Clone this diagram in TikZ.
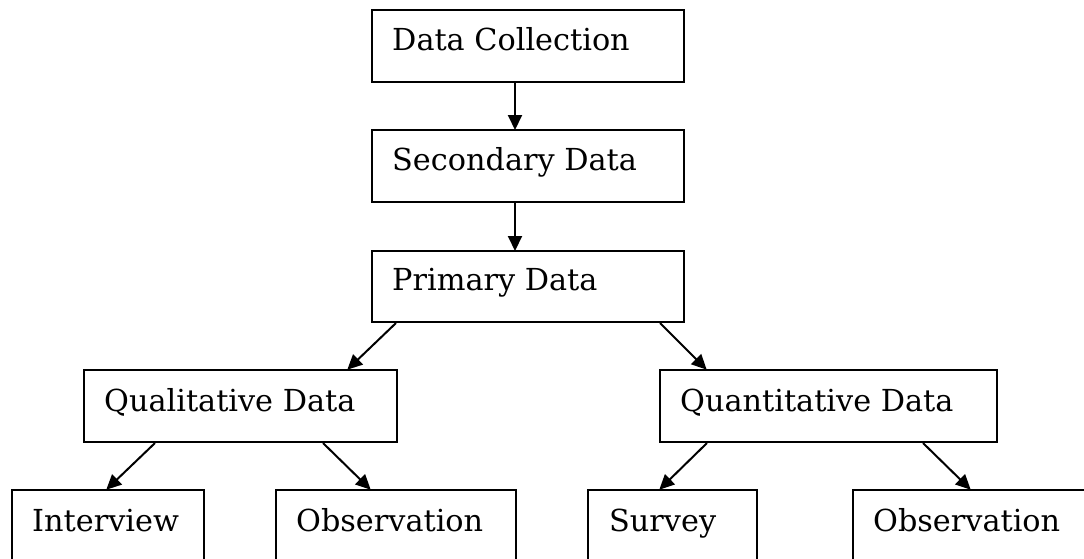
\documentclass[tikz,border=0pt]{standalone}
\usepackage{fontspec}
\setmainfont{DejaVu Serif}
\usetikzlibrary{arrows.meta,calc}
\begin{document}
\begin{tikzpicture}[x=1pt,y=1pt,
  box/.style={draw=black, line width=2pt, rectangle, inner sep=0pt, anchor=north west},
  txt/.style={inner sep=0pt, anchor=base west, font=\fontsize{30.3}{36}\selectfont},
  arr/.style={line width=2pt, -{Triangle[length=15pt,width=14pt]}, shorten >=-1pt}
]
\useasboundingbox (0,0) rectangle (1084,-558);
\clip (0,0) rectangle (1084,-558);
% boxes
\node[box, minimum width=312pt, minimum height=72pt] (dc) at (371,-9) {};
\node[box, minimum width=312pt, minimum height=72pt] (sec) at (371,-129) {};
\node[box, minimum width=312pt, minimum height=71pt] (prim) at (371,-250) {};
\node[box, minimum width=313pt, minimum height=72pt] (qual) at (83,-369) {};
\node[box, minimum width=337pt, minimum height=72pt] (quant) at (659,-369) {};
\node[box, minimum width=192pt, minimum height=80pt] (int) at (11,-489) {};
\node[box, minimum width=240pt, minimum height=80pt] (obsa) at (275,-489) {};
\node[box, minimum width=169pt, minimum height=80pt] (surv) at (587,-489) {};
\node[box, minimum width=260pt, minimum height=80pt] (obsb) at (852,-489) {};
% texts
\node[txt] (dct) at (392,-50) {Data Collection};
\node[txt] (sect) at (392,-170) {Secondary Data};
\node[txt] (primt) at (392,-290) {Primary Data};
\node[txt] (qualt) at (104,-411) {Qualitative Data};
\node[txt] (quantt) at (680,-411) {Quantitative Data};
\node[txt] (intt) at (32,-531) {Interview};
\node[txt] (obsat) at (296,-531) {Observation};
\node[txt] (survt) at (609,-531) {Survey};
\node[txt] (obsbt) at (873,-531) {Observation};
% arrows
\draw[arr] ($(dc.south west)+(144,0)$) -- ($(sec.north west)+(144,0)$);
\draw[arr] ($(sec.south west)+(144,0)$) -- ($(prim.north west)+(144,0)$);
\draw[arr] ($(prim.south west)+(25,0)$) -- ($(qual.north west)+(265,0)$);
\draw[arr] ($(prim.south east)+(-25,0)$) -- ($(quant.north west)+(47,0)$);
\draw[arr] ($(qual.south west)+(72,0)$) -- ($(int.north west)+(96,0)$);
\draw[arr] ($(qual.south west)+(240,0)$) -- ($(obsa.north west)+(95,0)$);
\draw[arr] ($(quant.south west)+(48,0)$) -- ($(surv.north west)+(73,0)$);
\draw[arr] ($(quant.south west)+(264,0)$) -- ($(obsb.north west)+(118,0)$);
\end{tikzpicture}
\end{document}
